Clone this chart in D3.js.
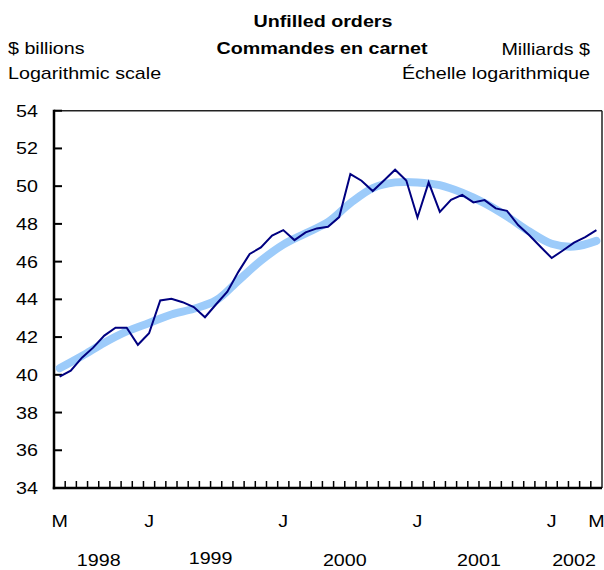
<!DOCTYPE html>
<html>
<head>
<meta charset="utf-8">
<script src="https://cdn.jsdelivr.net/npm/d3@7"></script>
<style>
  body { margin: 0; background: #fff; }
  svg { display: block; }
  text { font-family: "Liberation Sans", Arial, sans-serif; fill: #000; }
</style>
</head>
<body>
<div id="chart"></div>
<script>
// months May 1998 .. May 2002
const months = d3.range(49).map(i => new Date(1998, 4 + i, 1));
// unfilled orders, $ billions
const orders = [
  39.90, 40.22, 40.91, 41.44, 42.08, 42.50, 42.50, 41.59, 42.20, 43.94,
  44.03, 43.85, 43.59, 43.05, 43.74, 44.41, 45.47, 46.41, 46.75, 47.38,
  47.67, 47.14, 47.55, 47.76, 47.85, 48.36, 50.64, 50.29, 49.74, 50.30,
  50.87, 50.30, 48.34, 50.20, 48.64, 49.28, 49.54, 49.14, 49.26, 48.82,
  48.69, 47.94, 47.40, 46.79, 46.19, 46.59, 47.01, 47.30, 47.67
];
// trend-cycle, read every second month
const trendIdx = d3.range(0, 49, 2);
const trend = [
  40.35, 41.00, 41.70, 42.30, 42.75, 43.20, 43.50, 43.95, 45.00, 46.05,
  46.90, 47.50, 48.10, 49.10, 49.90, 50.20, 50.20, 50.05, 49.65, 49.10,
  48.40, 47.60, 46.95, 46.80, 47.10
];
const yTicks = [34, 36, 38, 40, 42, 44, 46, 48, 50, 52, 54];
const monthLabels = [{ i: 0, t: "M" }, { i: 8, t: "J" }, { i: 20, t: "J" },
  { i: 32, t: "J" }, { i: 44, t: "J" }, { i: 48, t: "M" }];
const years = [1998, 1999, 2000, 2001, 2002];

const W = 604, H = 570;
const plotL = 54, plotR = 602, plotT = 110.7, plotB = 488;
const SX = 1.2; // the source text is stretched horizontally

const svg = d3.select("#chart").append("svg")
  .attr("width", W).attr("height", H);

const x = d3.scaleBand().domain(d3.range(49)).range([plotL, plotR]);
const cx = i => x(i) + x.bandwidth() / 2;
const y = d3.scaleLinear().domain([34, 54]).range([plotB, plotT]);

function label(px, py, str, anchor, opts = {}) {
  return svg.append("text")
    .attr("transform", "translate(" + px + "," + py + ") scale(" + SX + ",1)")
    .attr("text-anchor", anchor)
    .style("font-size", (opts.size || 16.4) + "px")
    .style("font-weight", opts.bold ? "bold" : "normal")
    .text(str);
}

// titles
label(323, 27, "Unfilled orders", "middle", { bold: true });
label(322, 53.5, "Commandes en carnet", "middle", { bold: true });
label(8, 54, "$ billions", "start");
label(8, 79, "Logarithmic scale", "start");
label(590, 55, "Milliards $", "end");
label(590, 78.5, "Échelle logarithmique", "end");

// frame
svg.append("line").attr("x1", plotL).attr("x2", plotR).attr("y1", plotT).attr("y2", plotT)
  .attr("stroke", "#222").attr("stroke-width", 1.5);
svg.append("line").attr("x1", plotR).attr("x2", plotR).attr("y1", plotT).attr("y2", plotB)
  .attr("stroke", "#222").attr("stroke-width", 1.5);

// y axis
svg.selectAll(".ytick").data(yTicks).enter().append("line")
  .attr("x1", plotL).attr("x2", plotL + 8)
  .attr("y1", d => y(d)).attr("y2", d => y(d))
  .attr("stroke", "#000").attr("stroke-width", 2);
yTicks.forEach(d => label(38, y(d) + 6, d, "end"));

// x axis ticks at month boundaries
svg.selectAll(".xtick").data(d3.range(1, 49)).enter().append("line")
  .attr("x1", d => x(d)).attr("x2", d => x(d))
  .attr("y1", plotB).attr("y2", plotB - 7)
  .attr("stroke", "#000").attr("stroke-width", 1.5);

svg.append("line").attr("x1", plotL).attr("x2", plotL).attr("y1", plotT - 1).attr("y2", plotB + 1.2)
  .attr("stroke", "#000").attr("stroke-width", 2.5);
svg.append("line").attr("x1", plotL - 1.2).attr("x2", plotR).attr("y1", plotB).attr("y2", plotB)
  .attr("stroke", "#000").attr("stroke-width", 2.5);

monthLabels.forEach(m => label(cx(m.i), 527, m.t, "middle"));
years.forEach(yr => {
  const idx = months.map((d, i) => d.getFullYear() === yr ? i : -1).filter(i => i >= 0);
  const mid = (cx(idx[0]) + cx(idx[idx.length - 1])) / 2;
  label(mid, yr === 1999 ? 564 : 566, yr, "middle");
});

// trend line
svg.append("path")
  .datum(trend.map((v, k) => [cx(trendIdx[k]), y(v)]))
  .attr("fill", "none")
  .attr("stroke", "#9ccbfa")
  .attr("stroke-width", 8)
  .attr("stroke-linecap", "round")
  .attr("d", d3.line().curve(d3.curveCatmullRom));

// series line
svg.append("path")
  .datum(orders)
  .attr("fill", "none")
  .attr("stroke", "#000080")
  .attr("stroke-width", 2)
  .attr("d", d3.line().x((d, i) => cx(i)).y(d => y(d)));
</script>
</body>
</html>
